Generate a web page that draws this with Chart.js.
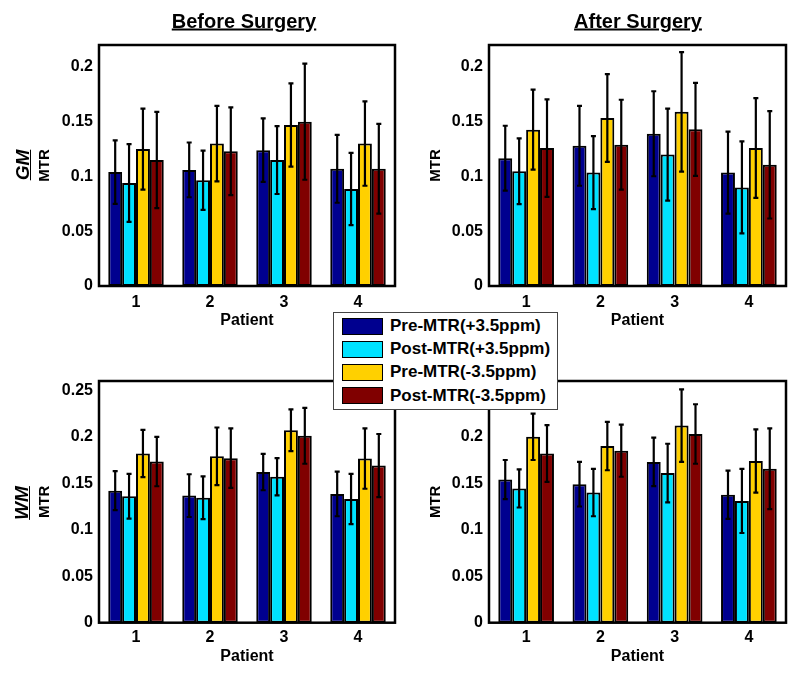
<!DOCTYPE html>
<html>
<head>
<meta charset="utf-8">
<script src="https://cdn.jsdelivr.net/npm/chart.js@4.4.0/dist/chart.umd.min.js"></script>
<style>
  html, body { margin: 0; padding: 0; background: #fff; }
  #wrap { position: relative; width: 800px; height: 676px; overflow: hidden;
          font-family: "Liberation Sans", Arial, sans-serif; color: #000; }
  canvas { position: absolute; }
  .ttl { position: absolute; font-weight: bold; font-size: 20px; text-decoration: underline;
         transform: translate(-50%, -50%); white-space: nowrap; }
  .side { position: absolute; font-weight: bold; font-style: italic; font-size: 19px;
          text-decoration: underline; white-space: nowrap;
          transform: translate(-50%, -50%) rotate(-90deg); }
  #legend { position: absolute; left: 333px; top: 312px; width: 223px; height: 96px;
            background: #fff; border: 1px solid #444; }
  .lrow { position: absolute; left: 8px; height: 17px; display: flex; align-items: center; }
  .sw { width: 39px; height: 15px; border: 1px solid #000; margin-right: 7px; }
  .lt { font-weight: bold; font-size: 17px; white-space: nowrap; }
</style>
</head>
<body>
<div id="wrap">
  <canvas id="gmBefore" width="400" height="338" style="left:0;top:0"></canvas>
  <canvas id="gmAfter" width="400" height="338" style="left:400px;top:0"></canvas>
  <canvas id="wmBefore" width="400" height="338" style="left:0;top:338px"></canvas>
  <canvas id="wmAfter" width="400" height="338" style="left:400px;top:338px"></canvas>

  <div class="ttl" style="left:244px;top:21px">Before Surgery</div>
  <div class="ttl" style="left:638px;top:21px">After Surgery</div>
  <div class="side" style="left:23px;top:165px">GM</div>
  <div class="side" style="left:22px;top:503px">WM</div>
  <div id="legend"></div>
</div>

<script>
/* ---------- data ---------- */
const patients = ['1', '2', '3', '4'];
const seriesNames = ['Pre-MTR(+3.5ppm)', 'Post-MTR(+3.5ppm)', 'Pre-MTR(-3.5ppm)', 'Post-MTR(-3.5ppm)'];
const seriesColors = ['#00008f', '#00e2ff', '#ffd000', '#800000'];

// rows = series, columns = patients
const gmBeforeMTR = [
  [0.104, 0.106, 0.124, 0.107],
  [0.094, 0.0965, 0.115, 0.0885],
  [0.125, 0.130, 0.147, 0.130],
  [0.115, 0.123, 0.150, 0.107],
];
const gmBeforeErr = [
  [0.029, 0.025, 0.029, 0.031],
  [0.0355, 0.027, 0.031, 0.033],
  [0.037, 0.0345, 0.038, 0.0385],
  [0.044, 0.040, 0.053, 0.041],
];
const gmAfterMTR = [
  [0.1167, 0.128, 0.139, 0.1035],
  [0.1047, 0.1035, 0.120, 0.090],
  [0.1427, 0.1534, 0.159, 0.126],
  [0.1259, 0.129, 0.143, 0.1106],
];
const gmAfterErr = [
  [0.0296, 0.0365, 0.0388, 0.0375],
  [0.030, 0.0333, 0.042, 0.042],
  [0.0365, 0.040, 0.0545, 0.0455],
  [0.0445, 0.041, 0.0425, 0.049],
];
const wmBeforeMTR = [
  [0.142, 0.1367, 0.162, 0.1385],
  [0.136, 0.1345, 0.157, 0.133],
  [0.182, 0.179, 0.207, 0.1766],
  [0.1734, 0.177, 0.201, 0.169],
];
const wmBeforeErr = [
  [0.021, 0.023, 0.0195, 0.024],
  [0.024, 0.023, 0.020, 0.027],
  [0.0255, 0.031, 0.0225, 0.0325],
  [0.0266, 0.032, 0.030, 0.034],
];
const wmAfterMTR = [
  [0.154, 0.149, 0.173, 0.1376],
  [0.1444, 0.140, 0.161, 0.131],
  [0.200, 0.190, 0.212, 0.174],
  [0.182, 0.185, 0.203, 0.1656],
];
const wmAfterErr = [
  [0.021, 0.024, 0.026, 0.026],
  [0.0205, 0.0255, 0.0315, 0.0345],
  [0.025, 0.026, 0.039, 0.034],
  [0.0305, 0.028, 0.032, 0.0435],
];
const gmTicks = [0, 0.05, 0.1, 0.15, 0.2];
const wmTicks = [0, 0.05, 0.1, 0.15, 0.2, 0.25];

/* ---------- plugins ---------- */
// error bars, positioned from the bar elements and the y scale
const errorBars = {
  id: 'errorBars',
  afterDatasetsDraw(chart) {
    const ctx = chart.ctx;
    const y = chart.scales.y;
    ctx.save();
    ctx.strokeStyle = '#000';
    ctx.lineWidth = 2.2;
    chart.data.datasets.forEach((ds, di) => {
      const meta = chart.getDatasetMeta(di);
      meta.data.forEach((bar, i) => {
        const v = ds.data[i], e = ds.errors[i];
        const yt = y.getPixelForValue(v + e), yb = y.getPixelForValue(v - e);
        ctx.beginPath();
        ctx.moveTo(bar.x, yt); ctx.lineTo(bar.x, yb);
        ctx.moveTo(bar.x - 2.5, yt); ctx.lineTo(bar.x + 2.5, yt);
        ctx.moveTo(bar.x - 2.5, yb); ctx.lineTo(bar.x + 2.5, yb);
        ctx.stroke();
      });
    });
    ctx.restore();
  }
};

// box round the plot area
const frame = {
  id: 'frame',
  afterDatasetsDraw(chart) {
    const a = chart.chartArea, ctx = chart.ctx;
    ctx.save();
    ctx.strokeStyle = '#000';
    ctx.lineWidth = 2.5;
    ctx.strokeRect(a.left, a.top, a.right - a.left, a.bottom - a.top);
    ctx.restore();
  }
};

const FONT = '"Liberation Sans", Arial, sans-serif';

function makePanel(id, means, errs, ticks, cfg) {
  new Chart(document.getElementById(id), {
    type: 'bar',
    data: {
      labels: patients,
      datasets: seriesNames.map((name, s) => ({
        label: name,
        data: means[s],
        errors: errs[s],
        backgroundColor: seriesColors[s],
        borderColor: '#000',
        borderWidth: 2,
        borderSkipped: false,
        barPercentage: 1.0,
        categoryPercentage: 0.75,
      })),
    },
    options: {
      responsive: false,
      animation: false,
      layout: { padding: { left: 0, right: cfg.padRight, top: cfg.padTop, bottom: 0 } },
      plugins: { legend: { display: false }, tooltip: { enabled: false } },
      scales: {
        x: {
          grid: { display: false, drawTicks: false },
          border: { display: false },
          ticks: { color: '#000', padding: cfg.xTickPad, font: { family: FONT, size: 16, weight: 'bold' } },
          title: { display: true, text: 'Patient', color: '#000', padding: { top: 0, bottom: cfg.xTitlePad },
                   font: { family: FONT, size: 16, weight: 'bold' } },
          afterFit(scale) { scale.height = cfg.xHeight; },
        },
        y: {
          min: 0,
          max: cfg.max,
          grid: { display: false, drawTicks: false },
          border: { display: false },
          afterBuildTicks(scale) { scale.ticks = ticks.map(v => ({ value: v })); },
          ticks: {
            color: '#000', padding: 6,
            font: { family: FONT, size: 16, weight: 'bold' },
            callback: v => String(+v.toFixed(2)),
          },
          title: { display: true, text: 'MTR', color: '#000', padding: { top: cfg.yTitlePad, bottom: 0 },
                   font: { family: FONT, size: 15, weight: 'bold' } },
          afterFit(scale) { scale.width = cfg.yWidth; },
        },
      },
    },
    plugins: [errorBars, frame],
  });
}

makePanel('gmBefore', gmBeforeMTR, gmBeforeErr, gmTicks,
  { max: 0.22, padTop: 45, padRight: 5, yWidth: 99, xHeight: 52, xTickPad: 7.4, xTitlePad: 7.4, yTitlePad: 36 });
makePanel('gmAfter', gmAfterMTR, gmAfterErr, gmTicks,
  { max: 0.22, padTop: 45, padRight: 14, yWidth: 89, xHeight: 52, xTickPad: 7.4, xTitlePad: 7.4, yTitlePad: 27 });
makePanel('wmBefore', wmBeforeMTR, wmBeforeErr, wmTicks,
  { max: 0.26, padTop: 43, padRight: 5, yWidth: 99, xHeight: 53.3, xTickPad: 5, xTitlePad: 9.7, yTitlePad: 36 });
makePanel('wmAfter', wmAfterMTR, wmAfterErr, wmTicks,
  { max: 0.26, padTop: 43, padRight: 14, yWidth: 89, xHeight: 53.3, xTickPad: 5, xTitlePad: 9.7, yTitlePad: 27 });

/* ---------- legend ---------- */
const legend = document.getElementById('legend');
seriesNames.forEach((name, s) => {
  const row = document.createElement('div');
  row.className = 'lrow';
  row.style.top = (4.5 + s * 23.2) + 'px';
  row.innerHTML = `<div class="sw" style="background:${seriesColors[s]}"></div><span class="lt">${name}</span>`;
  legend.appendChild(row);
});
</script>
</body>
</html>
